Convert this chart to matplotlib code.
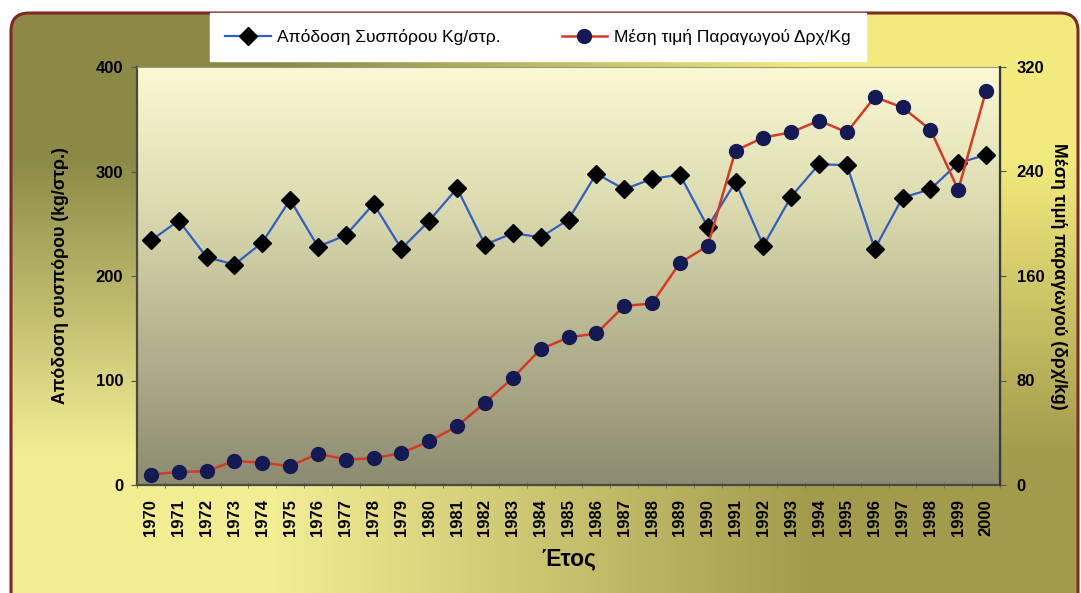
"""Yield of cotton seed vs mean producer price, 1970-2000."""

import numpy as np
import matplotlib.pyplot as plt
from matplotlib.colors import LinearSegmentedColormap
from matplotlib.patches import FancyBboxPatch

plt.rcParams["font.family"] = ["Liberation Sans", "DejaVu Sans"]

years = list(range(1970, 2001))
yield_kg = [234, 253, 218, 211, 232, 273, 228, 239, 269, 226,
            253, 284, 230, 241, 237, 254, 298, 283, 293, 297,
            247, 290, 229, 276, 307, 306, 226, 275, 283, 308, 316]
price_drx = [8, 10, 10.5, 18.5, 17, 14.5, 24, 19.5, 20.5, 24.5,
             33.5, 45, 63, 82, 104, 113, 116, 137, 139, 170,
             183, 256, 266, 270, 279, 270, 297, 289, 272, 226, 302]

yield_label = "Απόδοση Συσπόρου Kg/στρ."
price_label = "Μέση τιμή Παραγωγού Δρχ/Kg"

W, H = 1081, 593
fig = plt.figure(figsize=(W / 100, H / 100), dpi=100, facecolor="white")

# outer rounded frame with a saddle-like gradient
bg = fig.add_axes([0, 0, 1, 1], zorder=-10)
bg.set_xlim(0, W)
bg.set_ylim(H, 0)
bg.axis("off")
corners = np.array([[[0.55, 0.54, 0.28], [0.95, 0.92, 0.49]],
                    [[0.95, 0.93, 0.58], [0.64, 0.61, 0.30]]])
frame = FancyBboxPatch((11, 13), 1067, 600, boxstyle="round,pad=0,rounding_size=18",
                       facecolor="none", edgecolor="#7e2a22", linewidth=2.2,
                       transform=bg.transData)
img = bg.imshow(corners, extent=(11, 1078, 600, 13), interpolation="bilinear", aspect="auto")
img.set_clip_path(frame)
bg.add_patch(frame)

ax = fig.add_axes([137 / W, 1 - 485 / H, 863 / W, 418 / H])
ax.set_facecolor("none")
x = np.arange(len(years))
plot_cmap = LinearSegmentedColormap.from_list(
    "plot", ["#8d8b70", "#b4b28e", "#dcdaae", "#fbf9d4"])
grad = np.linspace(0, 1, 256).reshape(-1, 1)
ax.imshow(grad, cmap=plot_cmap, origin="lower", aspect="auto",
          extent=(-0.5, 30.5, 0, 400), zorder=0)

ax.plot(x, yield_kg, color="#2f5fc4", linewidth=1.6, marker="D", markersize=9,
        markerfacecolor="black", markeredgecolor="black", label=yield_label, zorder=3)
ax.set_xlim(-0.5, 30.5)
ax.set_ylim(0, 400)
ax.set_yticks([0, 100, 200, 300, 400])
ax.set_xticks(x)
ax.set_xticklabels([str(y) for y in years], rotation=90)
ax.set_xticks(np.arange(-0.5, 31, 1), minor=True)
ax.tick_params(axis="x", which="major", length=0, pad=10, labelsize=12)
ax.tick_params(axis="x", which="minor", length=4, color="#666666", direction="inout")
ax.tick_params(axis="y", length=4, color="#555555", labelsize=12, pad=6)
for lab in ax.get_xticklabels() + ax.get_yticklabels():
    lab.set_fontweight("bold")
ax.set_ylabel("Απόδοση συσπόρου (kg/στρ.)", fontsize=12.8, fontweight="bold", labelpad=19)
ax.set_xlabel("Έτος", fontsize=16.5, fontweight="bold", labelpad=8)
for side in ["left", "bottom"]:
    ax.spines[side].set_color("#4a4a40")
    ax.spines[side].set_linewidth(1.6)
ax.spines["top"].set_color("#9a9a88")
ax.spines["top"].set_linewidth(0.8)

ax2 = ax.twinx()
ax2.plot(x, price_drx, color="#d43a26", linewidth=1.8, marker="o", markersize=10,
         markerfacecolor="#141a55", markeredgecolor="#141a55", label=price_label, zorder=3)
ax2.set_ylim(0, 320)
ax2.set_yticks([0, 80, 160, 240, 320])
ax2.tick_params(axis="y", length=4, color="#555555", labelsize=12, pad=8)
for lab in ax2.get_yticklabels():
    lab.set_fontweight("bold")
ax2.set_ylabel("Μέση τιμή παραγωγού (δρχ/kg)", fontsize=12.8, fontweight="bold",
               rotation=270, labelpad=16)
ax2.spines["right"].set_color("#3a3a35")
ax2.spines["right"].set_linewidth(1.6)
ax2.spines["top"].set_visible(False)
ax2.spines["left"].set_visible(False)
ax2.spines["bottom"].set_visible(False)

h1, l1 = ax.get_legend_handles_labels()
h2, l2 = ax2.get_legend_handles_labels()
leg = fig.legend(h1 + h2, l1 + l2, ncol=2, loc="center", bbox_to_anchor=(538 / W, 1 - 37 / H),
                 frameon=True, fancybox=False, facecolor="white", edgecolor="white",
                 framealpha=1, fontsize=12.5, handlelength=2.6, columnspacing=3.5,
                 borderpad=0.9, handletextpad=0.4, borderaxespad=0)

fig.savefig("out.png", dpi=100, facecolor="white")
